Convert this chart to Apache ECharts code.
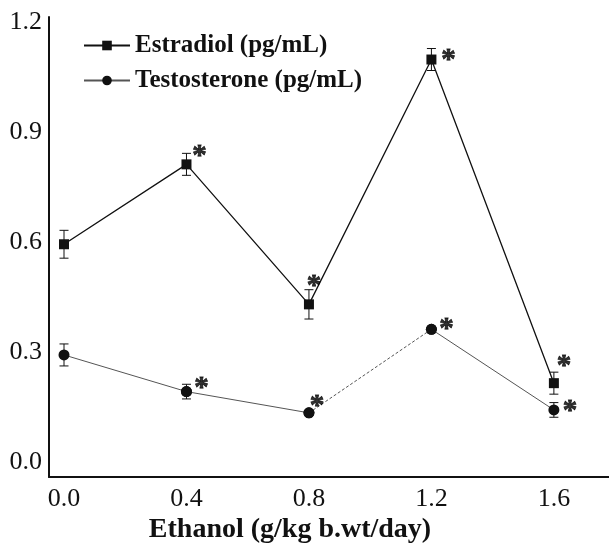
<!DOCTYPE html>
<html>
  <head>
    <meta charset="UTF-8" />
    <title>Estradiol / Testosterone vs Ethanol</title>
    <script src="https://cdn.jsdelivr.net/npm/echarts@6/dist/echarts.min.js"></script>
  </head>
  <body style="margin: 0">
    <div id="main" style="width: 609px; height: 543px"></div>
    <script>
      const doses = [0.0, 0.4, 0.8, 1.2, 1.6]
      const estradiol = [0.594, 0.812, 0.43, 1.098, 0.215]
      const estradiolErr = [0.038, 0.03, 0.04, 0.03, 0.03]
      const estradiolSig = [false, true, true, true, true]
      const testosterone = [0.292, 0.192, 0.134, 0.362, 0.142]
      const testosteroneErr = [0.03, 0.02, 0.006, 0.006, 0.02]
      const testosteroneSig = [false, true, true, true, true]
      // segment i joins point i and i+1
      const testosteroneDashed = [false, false, true, false]
      const xTicks = [0.0, 0.4, 0.8, 1.2, 1.6]
      const yTicks = [0.0, 0.3, 0.6, 0.9, 1.2]

      const E_NAME = 'Estradiol (pg/mL)'
      const T_NAME = 'Testosterone (pg/mL)'
      const serif = 'Liberation Serif'
      const ink = '#111'

      // where the asterisk sits relative to the marker (px)
      const eStarOffset = [null, [13, -8], [5, -18], [17, 1], [10, -17]]
      const tStarOffset = [null, [15, -3], [8, -6], [15, 0], [16, 2]]

      const chart = echarts.init(document.getElementById('main'))

      function errBars(name, ys, errs) {
        return {
          type: 'custom',
          name: name,
          z: 1,
          silent: true,
          data: doses.map((x, i) => [x, ys[i] - errs[i], ys[i] + errs[i]]),
          renderItem: (params, api) => {
            const lo = api.coord([api.value(0), api.value(1)])
            const hi = api.coord([api.value(0), api.value(2)])
            const w = 4.5
            const st = { stroke: ink, lineWidth: 1 }
            return {
              type: 'group',
              children: [
                { type: 'line', shape: { x1: lo[0], y1: lo[1], x2: hi[0], y2: hi[1] }, style: st },
                { type: 'line', shape: { x1: lo[0] - w, y1: lo[1], x2: lo[0] + w, y2: lo[1] }, style: st },
                { type: 'line', shape: { x1: hi[0] - w, y1: hi[1], x2: hi[0] + w, y2: hi[1] }, style: st },
              ],
            }
          },
        }
      }

      function stars(name, ys, sig, offsets) {
        const data = []
        doses.forEach((x, i) => {
          if (!sig[i]) return
          data.push({ value: [x, ys[i]], label: { offset: offsets[i] } })
        })
        return {
          type: 'scatter',
          name: name,
          z: 5,
          silent: true,
          symbolSize: 0,
          data: data,
          label: {
            show: true,
            position: 'inside',
            formatter: '*',
            fontFamily: serif,
            fontWeight: 'bold',
            fontSize: 29,
            color: '#000',
            textBorderColor: '#000',
            textBorderWidth: 0.8,
          },
        }
      }

      const series = [
        errBars('e-err', estradiol, estradiolErr),
        errBars('t-err', testosterone, testosteroneErr),
        {
          type: 'line',
          name: E_NAME,
          z: 3,
          data: doses.map((x, i) => [x, estradiol[i]]),
          symbol: 'rect',
          symbolSize: 10,
          itemStyle: { color: ink },
          lineStyle: { color: ink, width: 1.3 },
        },
      ]

      // testosterone drawn piece by piece so one segment can be dashed
      testosteroneDashed.forEach((dashed, i) => {
        series.push({
          type: 'line',
          name: T_NAME,
          z: 3,
          data: [
            [doses[i], testosterone[i]],
            [doses[i + 1], testosterone[i + 1]],
          ],
          symbol: 'circle',
          symbolSize: 11,
          itemStyle: { color: ink },
          lineStyle: { color: '#555', width: 1, type: dashed ? [3, 2] : 'solid' },
        })
      })

      series.push(stars('e-star', estradiol, estradiolSig, eStarOffset))
      series.push(stars('t-star', testosterone, testosteroneSig, tStarOffset))

      const option = {
        animation: false,
        backgroundColor: '#fff',
        grid: { left: 49, right: 0, top: 17, bottom: 66 },
        legend: {
          data: [E_NAME, T_NAME],
          orient: 'vertical',
          left: 78,
          top: 28,
          itemWidth: 46,
          itemHeight: 12,
          itemGap: 10,
          selectedMode: false,
          textStyle: {
            fontFamily: serif,
            fontSize: 25,
            fontWeight: 'bold',
            color: ink,
          },
        },
        graphic: [
          {
            type: 'text',
            x: 290,
            y: 530,
            style: {
              text: 'Ethanol (g/kg b.wt/day)',
              fontFamily: serif,
              fontSize: 28,
              fontWeight: 'bold',
              fill: ink,
              align: 'center',
              verticalAlign: 'middle',
            },
          },
        ],
        xAxis: {
          type: 'value',
          min: -0.049,
          max: 1.78,
          splitLine: { show: false },
          axisLine: { onZero: false, lineStyle: { color: ink, width: 2 } },
          axisTick: { show: false },
          axisLabel: {
            customValues: xTicks,
            formatter: (v) => v.toFixed(1),
            fontFamily: serif,
            fontSize: 26,
            color: ink,
            margin: 9,
          },
        },
        yAxis: {
          type: 'value',
          min: -0.041,
          max: 1.214,
          splitLine: { show: false },
          axisLine: { show: true, onZero: false, lineStyle: { color: ink, width: 2 } },
          axisTick: { show: false },
          axisLabel: {
            customValues: yTicks,
            formatter: (v) => v.toFixed(1),
            fontFamily: serif,
            fontSize: 26,
            color: ink,
            margin: 7,
          },
        },
        series: series,
      }

      chart.setOption(option)
    </script>
  </body>
</html>
